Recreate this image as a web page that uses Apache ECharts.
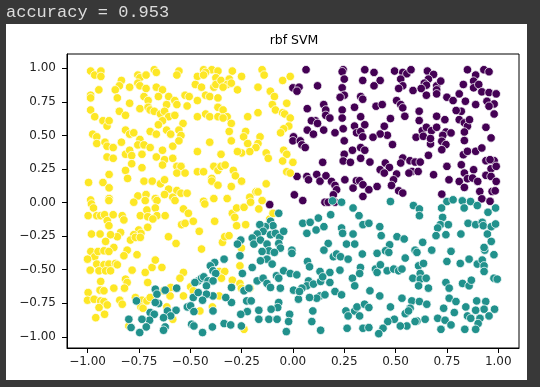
<!DOCTYPE html>
<html>
<head>
<meta charset="utf-8">
<script src="https://cdn.jsdelivr.net/npm/echarts@6/dist/echarts.min.js"></script>
<style>
html,body{margin:0;padding:0;background:#383838;}
#chart{width:540px;height:387px;}
</style>
</head>
<body>
<div id="chart"></div>
<script>
const headerText = 'accuracy = 0.953';
const chartTitle = 'rbf SVM';
const xTicks = [-1.0, -0.75, -0.5, -0.25, 0.0, 0.25, 0.5, 0.75, 1.0];
const yTicks = [-1.0, -0.75, -0.5, -0.25, 0.0, 0.25, 0.5, 0.75, 1.0];

// class 2 (yellow)
const yellowPoints = [
[-0.985,0.98],[-0.965,0.95],[-0.935,0.98],[-0.935,0.94],[-0.675,0.99],[-0.665,0.97],[-0.555,0.98],[-0.565,0.95],[-0.435,0.99],[-0.395,0.99],[-0.365,0.98],[-0.425,0.97],[-0.465,0.94],[-0.435,0.95],[-0.375,0.93],
[-0.755,0.95],[-0.745,0.93],[-0.715,0.95],[-0.835,0.91],[-0.845,0.87],[-0.865,0.84],[-0.795,0.86],[-0.755,0.89],[-0.745,0.87],[-0.715,0.85],[-0.665,0.86],[-0.635,0.84],[-0.475,0.88],[-0.445,0.86],[-0.385,0.86],[-0.375,0.88],
[-0.985,0.80],[-0.985,0.78],[-0.945,0.84],[-0.855,0.78],[-0.795,0.74],[-0.725,0.79],[-0.705,0.76],[-0.655,0.79],[-0.605,0.79],[-0.615,0.73],[-0.575,0.76],[-0.565,0.73],[-0.525,0.80],[-0.505,0.79],[-0.515,0.72],[-0.465,0.76],[-0.425,0.80],[-0.405,0.79],[-0.365,0.78],
[-0.985,0.69],[-0.965,0.64],[-0.845,0.68],[-0.815,0.65],[-0.745,0.70],[-0.705,0.71],[-0.695,0.69],[-0.675,0.68],[-0.645,0.66],[-0.625,0.68],[-0.605,0.64],[-0.575,0.65],[-0.465,0.64],[-0.425,0.66],[-0.405,0.64],[-0.365,0.71],[-0.365,0.64],
[-0.925,0.61],[-0.905,0.57],[-0.895,0.61],[-0.635,0.61],[-0.655,0.58],[-0.535,0.59],
[-0.975,0.51],[-0.955,0.49],[-0.815,0.54],[-0.795,0.51],[-0.775,0.52],[-0.695,0.53],[-0.665,0.51],[-0.615,0.54],[-0.595,0.51],[-0.555,0.54],[-0.545,0.50],
[-0.955,0.44],[-0.915,0.45],[-0.905,0.42],[-0.875,0.41],[-0.835,0.45],[-0.745,0.47],[-0.755,0.43],[-0.725,0.43],[-0.695,0.41],[-0.585,0.42],[-0.555,0.46],[-0.405,0.45],
[-0.905,0.34],[-0.875,0.33],[-0.815,0.36],[-0.795,0.39],[-0.785,0.35],[-0.735,0.36],[-0.665,0.34],[-0.635,0.39],[-0.625,0.32],[-0.585,0.33],[-0.465,0.38],
[-0.895,0.21],[-0.815,0.24],[-0.785,0.29],[-0.735,0.26],[-0.635,0.28],[-0.565,0.27],[-0.545,0.27],[-0.565,0.22],[-0.525,0.22],[-0.465,0.23],[-0.435,0.23],[-0.385,0.27],[-0.365,0.24],[-0.395,0.18],
[-0.995,0.15],[-0.925,0.15],[-0.895,0.11],[-0.805,0.18],[-0.725,0.16],[-0.685,0.16],[-0.645,0.14],[-0.625,0.17],[-0.605,0.10],[-0.565,0.09],[-0.545,0.07],[-0.515,0.07],[-0.395,0.16],[-0.365,0.13],
[-0.985,0.02],[-0.895,0.03],[-0.755,0.05],[-0.715,0.06],[-0.67,0.03],[-0.625,0.06],[-0.585,0.04],[-0.435,0.01],[-0.385,0.03],
[-0.295,0.98],[-0.25,0.94],[-0.15,0.99],[-0.14,0.95],[-0.35,0.91],[-0.31,0.92],[-0.32,0.88],[-0.30,0.89],[-0.27,0.84],[-0.34,0.86],[-0.34,0.69],[-0.32,0.64],[-0.30,0.59],[-0.31,0.53],[-0.34,0.63],[-0.17,0.86],[-0.11,0.83],[-0.09,0.79],[-0.05,0.91],[-0.013,0.94],[-0.22,0.64],[-0.17,0.67],[-0.10,0.73],[-0.085,0.69],[-0.03,0.74],[-0.05,0.67],[-0.04,0.66],[-0.013,0.63],[-0.02,0.57],[-0.045,0.55],[-0.06,0.52],[-0.23,0.53],[-0.24,0.49],[-0.16,0.49],[-0.17,0.44],[-0.18,0.41],[-0.22,0.44],[-0.21,0.38],[-0.25,0.37],[-0.27,0.38],[-0.30,0.46],[-0.35,0.36],[-0.13,0.37],[-0.12,0.33],[-0.045,0.39],[-0.03,0.36],[-0.05,0.31],[0.0,0.30],[-0.03,0.23],[-0.013,0.22],[-0.35,0.27],[-0.33,0.28],[-0.29,0.24],[-0.28,0.20],[-0.25,0.16],[-0.30,0.12],[-0.13,0.14],[-0.18,0.08],[-0.17,0.08],[-0.21,0.04],[-0.32,0.03],
[-0.981,-0.010],[-0.971,-0.040],[-0.896,0.015],[-0.775,0.003],[-0.719,0.015],[-0.662,0.015],[-0.574,0.015],[-0.429,-0.010],[-0.533,-0.047],[-0.509,-0.080],[-0.997,-0.097],[-0.955,-0.097],[-0.936,-0.097],[-0.917,-0.090],[-0.904,-0.134],[-0.896,-0.172],[-0.875,-0.090],[-0.831,-0.097],[-0.823,-0.129],[-0.743,-0.097],[-0.711,-0.055],[-0.707,-0.105],[-0.670,-0.040],[-0.662,-0.097],[-0.682,-0.122],[-0.622,-0.097],[-0.542,-0.164],[-0.525,-0.154],[-0.485,-0.139],[-0.381,-0.139],[-0.707,-0.184],[-0.751,-0.204],[-0.740,-0.229],[-0.775,-0.239],[-0.839,-0.222],[-0.855,-0.254],[-0.888,-0.239],[-0.939,-0.234],[-0.981,-0.234],[-0.912,-0.289],[-0.872,-0.334],[-0.791,-0.279],[-0.767,-0.259],[-0.743,-0.259],[-0.606,-0.254],[-0.569,-0.304],[-0.456,-0.214],[-0.445,-0.346],
[-0.984,-0.364],[-0.965,-0.403],[-1.0,-0.421],[-0.949,-0.364],[-0.920,-0.359],[-0.896,-0.364],[-0.807,-0.354],[-0.823,-0.396],[-0.759,-0.388],[-0.955,-0.458],[-0.920,-0.463],[-0.896,-0.458],[-0.864,-0.453],[-0.855,-0.463],[-0.987,-0.503],[-0.944,-0.508],[-0.912,-0.508],[-0.888,-0.508],[-0.783,-0.503],[-0.719,-0.520],[-0.686,-0.483],[-0.638,-0.483],[-0.670,-0.428],[-0.936,-0.587],[-0.939,-0.652],[-0.920,-0.657],[-0.872,-0.637],[-0.815,-0.570],[-0.807,-0.595],[-0.820,-0.637],[-0.707,-0.595],[-0.533,-0.520],[-0.550,-0.563],[-0.498,-0.627],
[-0.997,-0.670],[-1.0,-0.727],[-0.968,-0.720],[-0.936,-0.732],[-0.920,-0.737],[-0.904,-0.762],[-0.944,-0.782],[-0.960,-0.857],[-0.917,-0.832],[-0.843,-0.727],[-0.831,-0.757],[-0.767,-0.707],[-0.735,-0.727],[-0.740,-0.777],[-0.598,-0.695],[-0.614,-0.777],[-0.585,-0.869],[-0.533,-0.695],[-0.485,-0.657],[-0.453,-0.807],[-0.392,-0.777],[-0.799,-0.919],[-0.730,-0.787],[-0.711,-0.732],[-0.695,-0.707],[-0.595,-0.632],[-0.630,-0.657],
[-0.295,-0.080],[-0.274,-0.040],[-0.238,-0.035],[-0.206,0.003],[-0.166,-0.047],[-0.150,0.015],[-0.274,-0.172],[-0.230,-0.164],[-0.283,-0.110],[-0.113,-0.122],[-0.097,-0.080],[-0.343,-0.296],[-0.332,-0.254],[-0.311,-0.246],[-0.251,-0.339],[-0.258,-0.471],[-0.359,-0.513],[-0.332,-0.513],[-0.348,-0.563],[-0.295,-0.578],[-0.258,-0.602],[-0.251,-0.637],[-0.209,-0.637],[-0.238,-0.944],[-0.359,-0.695]
];

// class 0 (purple)
const purplePoints = [
[0.064,0.99],[0.0,0.855],[0.03,0.86],[0.02,0.83],[0.12,0.87],[0.245,0.99],[0.24,0.975],[0.25,0.92],[0.24,0.855],[0.25,0.80],[0.23,0.785],[0.35,0.99],[0.34,0.91],[0.33,0.79],[0.34,0.77],[0.15,0.73],[0.16,0.69],[0.16,0.65],[0.18,0.63],[0.07,0.70],[0.11,0.61],[0.09,0.61],[0.12,0.59],[0.07,0.54],[0.10,0.51],[0.15,0.54],[0.205,0.52],[0.245,0.55],[0.24,0.69],[0.24,0.63],[0.30,0.71],[0.33,0.64],[0.30,0.57],[0.31,0.52],[0.33,0.53],[0.35,0.58],[0.34,0.49],[0.003,0.49],[0.0,0.46],[0.036,0.46],[0.044,0.43],[0.06,0.41],[0.25,0.46],[0.25,0.36],[0.245,0.31],[0.28,0.30],[0.29,0.39],[0.33,0.41],[0.35,0.39],[0.33,0.33],[0.145,0.30],[0.02,0.195],[0.068,0.195],[0.076,0.17],[0.116,0.21],[0.132,0.16],[0.161,0.20],[0.188,0.158],[0.205,0.128],[0.213,0.096],[0.253,0.17],[0.309,0.163],[0.325,0.163],[0.341,0.133],[0.293,0.108],[0.007,0.058],[0.197,0.058],[0.341,0.046],
[-0.113,-0.015],[0.048,0.015],[0.156,0.003],[0.205,0.003],[0.172,0.003],
[0.395,0.97],[0.425,0.91],[0.395,0.87],[0.495,0.98],[0.535,0.97],[0.555,0.96],[0.575,0.99],[0.525,0.92],[0.535,0.87],[0.515,0.85],[0.655,0.98],[0.685,0.955],[0.66,0.92],[0.64,0.89],[0.65,0.875],[0.70,0.87],[0.70,0.84],[0.72,0.905],[0.585,0.835],[0.625,0.85],[0.65,0.80],[0.70,0.81],[0.75,0.785],[0.85,0.99],[0.93,0.99],[0.955,0.975],[0.89,0.95],[0.88,0.905],[0.83,0.88],[0.88,0.855],[0.905,0.88],[0.92,0.825],[0.955,0.82],[0.99,0.81],[0.81,0.81],[0.78,0.76],[0.84,0.755],[0.89,0.73],[0.82,0.68],[0.795,0.686],[0.945,0.755],[0.98,0.735],[0.955,0.718],[0.98,0.66],
[0.505,0.76],[0.525,0.73],[0.535,0.706],[0.545,0.643],[0.615,0.681],[0.405,0.718],[0.435,0.73],[0.475,0.626],[0.445,0.569],[0.46,0.502],[0.425,0.511],[0.39,0.487],[0.615,0.611],[0.63,0.536],[0.65,0.561],[0.675,0.536],[0.70,0.561],[0.74,0.618],[0.70,0.643],[0.745,0.526],[0.73,0.501],[0.77,0.519],[0.81,0.618],[0.835,0.594],[0.85,0.569],[0.835,0.526],[0.86,0.618],[0.94,0.561],[0.965,0.482],
[0.60,0.487],[0.635,0.494],[0.67,0.437],[0.67,0.477],[0.725,0.457],[0.745,0.432],[0.725,0.394],[0.835,0.462],[0.83,0.357],[0.85,0.382],[0.89,0.382],[0.92,0.407],[0.485,0.432],[0.375,0.302],[0.425,0.245],[0.45,0.295],[0.47,0.262],[0.445,0.22],[0.535,0.332],[0.525,0.295],[0.57,0.312],[0.595,0.302],[0.62,0.302],[0.66,0.352],[0.58,0.232],[0.61,0.232],[0.565,0.22],[0.505,0.213],[0.49,0.17],[0.48,0.128],[0.41,0.12],[0.37,0.096],[0.515,0.088],[0.535,0.071],
[0.685,0.208],[0.75,0.27],[0.76,0.17],[0.82,0.282],[0.835,0.22],[0.81,0.158],[0.85,0.178],[0.88,0.245],[0.875,0.183],[0.90,0.158],[0.94,0.203],[0.965,0.252],[0.98,0.312],[0.99,0.27],[0.965,0.195],[0.99,0.158],[0.94,0.312],[0.96,0.32],[0.835,0.113],[0.91,0.083],[0.97,0.083],[0.985,0.088],[0.725,0.063],[0.92,0.028],[0.96,0.010]
];

// class 1 (teal)
const tealPoints = [
[0.193,0.013],[0.475,0.008],[0.75,0.008],[0.78,0.021],[0.825,0.013],[0.865,0.008],
[-0.381,-0.446],[-0.402,-0.471],[-0.389,-0.508],[-0.376,-0.528],[-0.461,-0.583],[-0.445,-0.563],[-0.434,-0.553],[-0.413,-0.583],[-0.389,-0.583],[-0.421,-0.620],[-0.477,-0.595],[-0.389,-0.695],[-0.421,-0.682],[-0.440,-0.727],[-0.485,-0.707],[-0.461,-0.670],[-0.514,-0.777],[-0.498,-0.769],[-0.482,-0.812],[-0.493,-0.906],[-0.482,-0.919],[-0.440,-0.968],[-0.392,-0.926],[-0.389,-0.807],[-0.569,-0.802],[-0.611,-0.807],[-0.595,-0.844],[-0.630,-0.857],[-0.622,-0.926],[-0.630,-0.951],[-0.670,-0.645],[-0.662,-0.682],[-0.622,-0.652],[-0.566,-0.637],[-0.654,-0.752],[-0.695,-0.819],[-0.675,-0.832],[-0.698,-0.876],[-0.735,-0.869],[-0.714,-0.926],[-0.746,-0.968],[-0.788,-0.931],[-0.799,-0.869],[-0.762,-0.732],[-0.670,-0.744],
[0.237,0.003],[-0.069,-0.080],[-0.109,-0.139],[-0.097,-0.172],[-0.134,-0.179],[-0.161,-0.164],[-0.145,-0.214],[-0.174,-0.234],[-0.198,-0.264],[-0.190,-0.309],[-0.158,-0.279],[-0.109,-0.239],[-0.085,-0.229],[-0.064,-0.259],[-0.045,-0.214],[-0.069,-0.304],[-0.061,-0.339],[-0.126,-0.309],[-0.117,-0.359],[-0.090,-0.371],[-0.126,-0.421],[-0.101,-0.458],[-0.150,-0.364],[-0.158,-0.433],[-0.254,-0.279],[-0.270,-0.309],[-0.258,-0.396],[-0.335,-0.421],[-0.198,-0.483],[-0.246,-0.528],[-0.174,-0.583],[-0.145,-0.563],[-0.126,-0.602],[-0.109,-0.632],[-0.080,-0.545],[-0.069,-0.563],[-0.045,-0.508],[-0.061,-0.637],[-0.005,-0.354],[-0.005,-0.378],[-0.013,-0.528],[0.019,-0.538],[0.071,-0.438],[0.081,-0.478],[0.076,-0.583],[0.068,-0.620],[0.044,-0.637],[0.100,-0.607],[0.132,-0.695],[0.116,-0.712],[0.081,-0.707],[0.027,-0.719],[0.003,-0.652],[0.032,-0.662],
[-0.069,-0.744],[-0.074,-0.782],[-0.106,-0.794],[-0.166,-0.802],[-0.222,-0.812],[-0.254,-0.832],[-0.299,-0.744],[-0.327,-0.707],[-0.299,-0.632],[-0.238,-0.657],[-0.214,-0.637],[-0.225,-0.732],[-0.203,-0.732],[-0.335,-0.901],[-0.303,-0.911],[-0.251,-0.919],[-0.166,-0.869],[-0.117,-0.869],[-0.077,-0.869],[-0.016,-0.832],[-0.021,-0.886],[-0.032,-0.961],[0.097,-0.807],[0.092,-0.886],[0.135,-0.951],
[0.048,-0.154],[0.084,-0.147],[0.068,-0.229],[0.124,-0.115],[0.113,-0.204],[0.151,-0.179],[0.184,-0.090],[0.237,-0.189],[0.242,-0.229],[0.293,-0.234],[0.293,-0.040],[0.322,-0.097],[0.341,-0.164],[0.261,-0.309],[0.172,-0.304],[0.151,-0.354],[0.197,-0.403],[0.213,-0.383],[0.232,-0.403],[0.301,-0.309],[0.338,-0.383],[0.329,-0.483],[0.269,-0.421],[0.229,-0.503],[0.180,-0.520],[0.132,-0.513],[0.135,-0.587],[0.145,-0.553],[0.205,-0.662],[0.237,-0.687],[0.290,-0.563],[0.325,-0.528],[0.301,-0.620],[0.258,-0.807],[0.269,-0.844],[0.301,-0.807],[0.312,-0.777],[0.349,-0.757],[0.325,-0.844],[0.264,-0.936],[0.341,-0.936],[0.156,-0.687],[0.180,-0.595],
[0.587,-0.022],[0.616,-0.047],[0.616,-0.097],[0.724,-0.040],[0.834,-0.040],[0.898,-0.022],[0.987,-0.040],[0.950,-0.072],[0.729,-0.110],[0.718,-0.164],[0.705,-0.189],[0.757,-0.164],[0.745,-0.239],[0.697,-0.246],[0.818,-0.234],[0.853,-0.154],[0.890,-0.164],[0.922,-0.147],[0.927,-0.172],[0.947,-0.234],[0.966,-0.179],[0.987,-0.159],[0.966,-0.289],[0.370,-0.154],[0.423,-0.179],[0.430,-0.246],[0.507,-0.254],[0.542,-0.271],[0.471,-0.314],[0.410,-0.378],[0.451,-0.359],[0.467,-0.371],[0.595,-0.354],[0.604,-0.371],[0.676,-0.354],[0.632,-0.296],[0.770,-0.363],[0.750,-0.438],[0.815,-0.453],[0.858,-0.421],[0.898,-0.458],[0.922,-0.428],[0.931,-0.471],[0.931,-0.513],[0.979,-0.388],[0.934,-0.354],[0.931,-0.334],
[0.402,-0.495],[0.410,-0.520],[0.426,-0.463],[0.459,-0.508],[0.491,-0.495],[0.515,-0.508],[0.531,-0.495],[0.547,-0.413],[0.612,-0.471],[0.620,-0.528],[0.636,-0.453],[0.584,-0.563],[0.620,-0.570],[0.649,-0.563],[0.612,-0.620],[0.660,-0.637],[0.745,-0.595],[0.761,-0.637],[0.761,-0.712],[0.794,-0.737],[0.826,-0.602],[0.858,-0.620],[0.869,-0.578],[0.979,-0.563],[0.995,-0.570],[0.375,-0.657],[0.423,-0.695],[0.531,-0.712],[0.475,-0.777],[0.579,-0.732],[0.571,-0.787],[0.616,-0.737],[0.652,-0.757],[0.547,-0.827],[0.563,-0.807],[0.604,-0.881],[0.595,-0.886],[0.644,-0.869],[0.555,-0.919],[0.523,-0.919],[0.494,-0.869],[0.462,-0.886],[0.439,-0.936],[0.418,-0.976],[0.370,-0.782],[0.370,-0.931],[0.734,-0.787],[0.705,-0.862],[0.741,-0.876],[0.786,-0.819],[0.842,-0.777],[0.850,-0.844],[0.895,-0.732],[0.939,-0.737],[0.931,-0.794],[0.890,-0.802],[0.911,-0.862],[0.866,-0.862],[0.902,-0.901],[0.955,-0.844],[0.982,-0.794],[0.721,-0.944],[0.770,-0.911],[0.837,-0.944],[0.890,-0.944]
];

const classColors = { purple: '#440154', teal: '#21918c', yellow: '#fde725' };

const fmt = v => (v < 0 ? '\u2212' : '') + Math.abs(v).toFixed(2);

const chart = echarts.init(document.getElementById('chart'), null, { renderer: 'canvas' });

function scatter(name, data, color) {
  return {
    name: name,
    type: 'scatter',
    data: data,
    symbol: 'circle',
    symbolSize: 8.5,
    itemStyle: { color: color, borderColor: '#ffffff', borderWidth: 0.75, opacity: 1 },
    emphasis: { disabled: true },
    animation: false
  };
}

const axisCommon = {
  type: 'value',
  axisLine: { show: true, onZero: false, lineStyle: { color: '#000', width: 1 } },
  splitLine: { show: false },
  axisTick: { show: true, inside: false, length: 5, lineStyle: { color: '#000', width: 1 } },
  axisLabel: { color: '#222', fontFamily: 'DejaVu Sans', fontSize: 12, formatter: fmt }
};

chart.setOption({
  backgroundColor: '#383838',
  animation: false,
  graphic: [
    { type: 'rect', z: -10, shape: { x: 6, y: 24, width: 521, height: 356 }, style: { fill: '#ffffff' } },
    { type: 'text', x: 6, y: 12, style: { text: headerText, fill: '#dcdcdc', font: '17px "Liberation Mono", "DejaVu Sans Mono", monospace', align: 'left', verticalAlign: 'middle' } },
    { type: 'text', x: 294, y: 41, style: { text: chartTitle, fill: '#000', font: '12.5px "DejaVu Sans"', align: 'center', verticalAlign: 'middle' } }
  ],
  grid: { left: 67, right: 21, top: 54, bottom: 39, containLabel: false, show: true, borderColor: '#000', borderWidth: 1, backgroundColor: 'transparent' },
  xAxis: Object.assign({}, axisCommon, {
    min: -1.10, max: 1.101,
    axisTick: Object.assign({}, axisCommon.axisTick, { customValues: xTicks }),
    axisLabel: Object.assign({}, axisCommon.axisLabel, { customValues: xTicks, margin: 8 })
  }),
  yAxis: Object.assign({}, axisCommon, {
    min: -1.083, max: 1.107,
    axisTick: Object.assign({}, axisCommon.axisTick, { customValues: yTicks }),
    axisLabel: Object.assign({}, axisCommon.axisLabel, { customValues: yTicks, margin: 11 })
  }),
  series: [
    scatter('0', purplePoints, classColors.purple),
    scatter('2', yellowPoints, classColors.yellow),
    scatter('1', tealPoints, classColors.teal)
  ]
});
</script>
</body>
</html>
